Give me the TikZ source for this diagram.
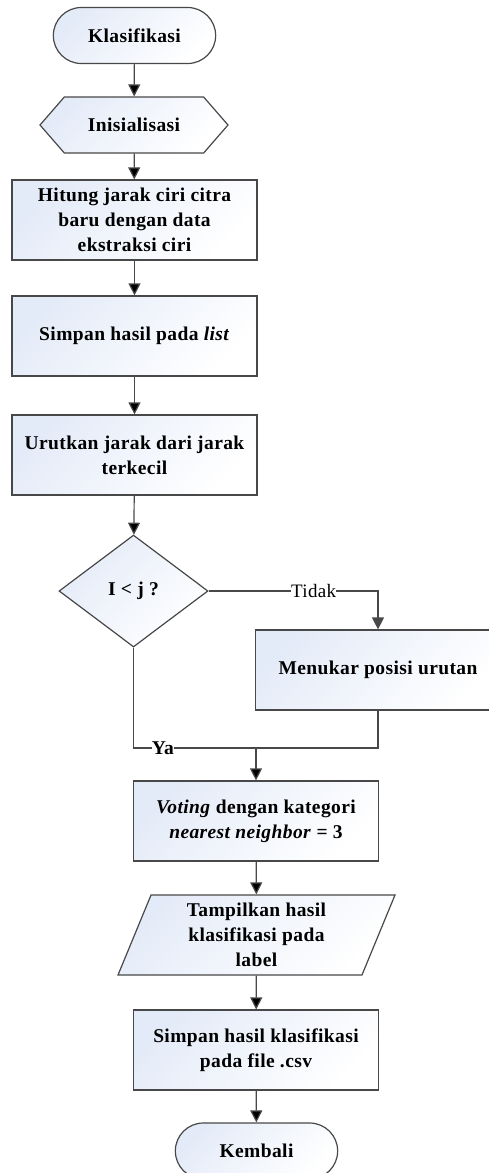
\documentclass[tikz,border=0pt]{standalone}
\usepackage{fontspec}
\setmainfont{Liberation Serif}[LetterSpace=2]
\usepackage{tikz}
\usetikzlibrary{
    arrows.meta,
    shapes.geometric,
    shapes.misc,
    shapes.symbols,
    positioning
}
\definecolor{boxblue}{RGB}{228,235,248}
\definecolor{boxline}{RGB}{72,72,72}

\begin{document}
\begin{tikzpicture}[x=1pt, y=1pt,
    font=\fontsize{19.5}{25}\selectfont\bfseries,
    every node/.style={align=center},
    base/.style={draw=boxline, line width=1.2pt, top color=boxblue, bottom color=white, shading angle=45},
    term/.style={base, rounded rectangle, minimum width=169, minimum height=56},
    prep/.style={base, signal, signal to=west and east, signal pointer angle=98, minimum width=188, minimum height=56},
    proc/.style={base, rectangle, minimum width=245, minimum height=80, inner sep=2pt},
    decide/.style={base, diamond, minimum width=149, minimum height=112, inner sep=0pt},
    io/.style={base, trapezium, trapezium left angle=64, trapezium right angle=116, trapezium stretches body, minimum width=277, minimum height=80, inner sep=2pt},
    line/.style={draw=boxline, line width=1.2pt},
    >={Triangle[length=12pt, width=12pt]}
]
    \useasboundingbox (0, 0) rectangle (489, -1173);

    \node[term] (mulai) at (134.5, -35.5) {Klasifikasi};
    \node[prep] (init) at (134, -125) {Inisialisasi};
    \node[proc] (hitung) at (134.5, -220) {Hitung jarak ciri citra\\baru dengan data\\ekstraksi ciri};
    \node[proc] (simpanlist) at (134.5, -336) {Simpan hasil pada \textit{list}};
    \node[proc] (urut) at (134.5, -455) {Urutkan jarak dari jarak\\terkecil};
    \node[decide] (cek) at (133.5, -591) {I < j ?};
    \node[proc] (tukar) at (378, -670) {Menukar posisi urutan};
    \coordinate (gabung) at (256, -748);
    \node[proc] (voting) at (256, -821) {\textit{Voting} dengan kategori\\\textit{nearest neighbor} = 3};
    \node[io] (tampil) at (256.5, -935) {Tampilkan hasil\\klasifikasi pada\\label};
    \node[proc] (simpancsv) at (256, -1050) {Simpan hasil klasifikasi\\pada file .csv};
    \node[term] (kembali) at (256.5, -1151) {Kembali};

    \draw[line]
    (mulai) edge[->] (init)
    (init) edge[->] (hitung)
    (hitung) edge[->] (simpanlist)
    (simpanlist) edge[->] (urut)
    (urut) edge[->] (cek)
    (gabung) edge[->] (voting)
    (voting) edge[->] (tampil)
    (tampil) edge[->] (simpancsv)
    (simpancsv) edge[->] (kembali);

    \draw[line, ->] (cek.east) -| node[pos=0.31, fill=white, inner sep=0pt, font=\fontsize{19}{25}\selectfont] {Tidak} (tukar.north);
    \draw[line] (cek.south) |- node[pos=0.62, fill=white, inner sep=0pt] {Ya} (gabung);
    \draw[line] (tukar.south) |- (gabung);
\end{tikzpicture}
\end{document}
